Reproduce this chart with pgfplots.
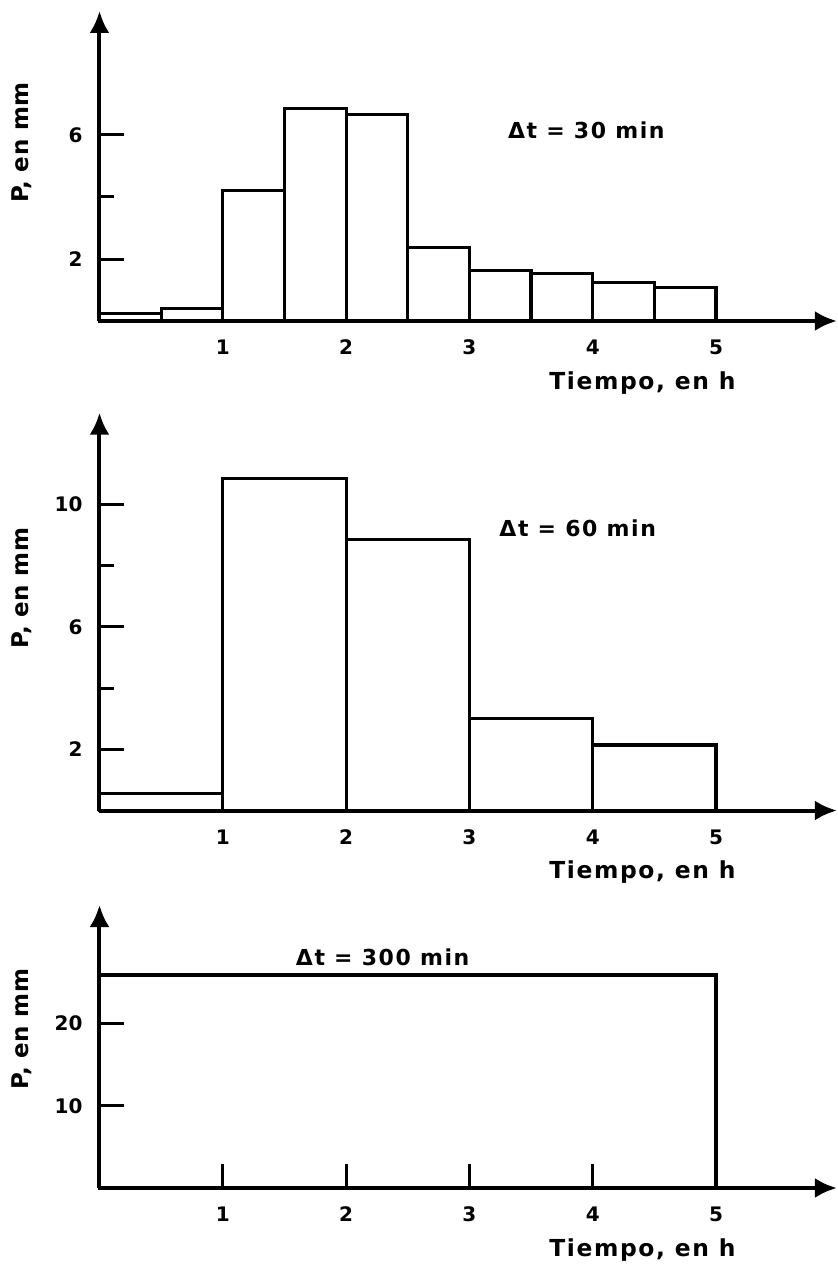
\documentclass[border=0pt]{standalone}
\usepackage{fontspec}
\setmainfont{DejaVu Sans}
\newfontfamily\lblfont{DejaVu Sans}[LetterSpace=7]
\newfontfamily\dtfont{DejaVu Sans}[LetterSpace=7]
\newfontfamily\ylfont{DejaVu Sans}[LetterSpace=3]
\usepackage{pgfplots}
\pgfplotsset{compat=1.18}
\usetikzlibrary{arrows.meta}

\pgfplotsset{
  panel/.style={
    scale only axis, width=368.7pt, xmin=0, xmax=5.98, ymin=0,
    axis lines=left,
    axis line style={line width=2pt, -{Latex[length=11pt,width=10pt]}},
    tick align=inside,
    major tick length=12pt, minor tick length=7.5pt,
    every major tick/.append style={line width=1.5pt, black},
    every minor tick/.append style={line width=1.5pt, black},
    xtick={1,2,3,4,5},
    /pgf/number format/assume math mode=true,
    ticklabel style={font=\bfseries\fontsize{10}{11}\selectfont},
    xticklabel style={yshift=-6pt},
    yticklabel style={xshift=-5pt},
    xlabel={Tiempo, en h},
    xlabel style={at={(axis description cs:0.863,0)}, anchor=north east, inner sep=0pt, yshift=-25pt, font=\lblfont\bfseries\fontsize{11.7}{13}\selectfont},
    ylabel={P, en mm},
    ylabel style={anchor=center, font=\ylfont\bfseries\fontsize{11.5}{13}\selectfont},
    clip=false,
  },
  bars/.style={ybar interval, draw=black, fill=none, line width=1.6pt},
}

\begin{document}
\begin{tikzpicture}
\path[use as bounding box] (-49.75pt,0pt) rectangle (368.75pt,-633.5pt);

% Panel 1: dt = 30 min
\begin{axis}[panel, at={(0pt,-160.5pt)}, anchor=south west,
  height=155pt, ymax=10.0,
  ytick={2,6}, minor ytick={4},
  ylabel style={at={(axis description cs:-0.106,0.576)}}]
\addplot[bars] coordinates {
  (0,0.25) (0.5,0.4) (1,4.2) (1.5,6.86) (2,6.65) (2.5,2.38)
  (3,1.62) (3.5,1.53) (4,1.23) (4.5,1.09) (5,1.09)};
\node[anchor=west, inner sep=0pt, font=\dtfont\bfseries\fontsize{11}{13}\selectfont] at (axis cs:3.31,6.15) {Δt = 30 min};
\end{axis}

% Panel 2: dt = 60 min
\begin{axis}[panel, at={(0pt,-405.25pt)}, anchor=south west,
  height=198.9pt, ymax=13.0,
  ytick={2,6,10}, minor ytick={4,8},
  ylabel style={at={(axis description cs:-0.106,0.56)}}]
\addplot[bars] coordinates {
  (0,0.56) (1,10.86) (2,8.86) (3,3.01) (4,2.14) (5,2.14)};
\node[anchor=west, inner sep=0pt, font=\dtfont\bfseries\fontsize{11}{13}\selectfont] at (axis cs:3.24,9.23) {Δt = 60 min};
\end{axis}

% Panel 3: dt = 300 min
\begin{axis}[panel, at={(0pt,-594pt)}, anchor=south west,
  height=141.5pt, ymax=34.4,
  ytick={10,20},
  ylabel style={at={(axis description cs:-0.106,0.562)}}]
\addplot[bars] coordinates {(0,25.9) (5,25.9)};
\node[anchor=west, inner sep=0pt, font=\dtfont\bfseries\fontsize{11}{13}\selectfont] at (axis cs:1.59,28.1) {Δt = 300 min};
\end{axis}
\end{tikzpicture}
\end{document}
